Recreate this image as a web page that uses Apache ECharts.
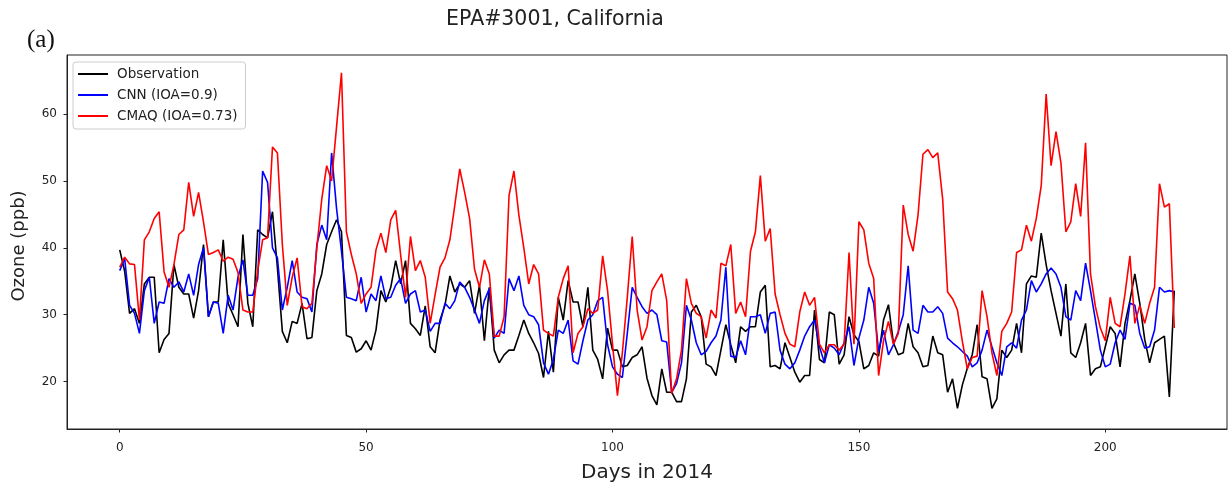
<!DOCTYPE html>
<html>
<head>
<meta charset="utf-8">
<script src="https://cdn.jsdelivr.net/npm/echarts@6/dist/echarts.min.js"></script>
<style>
  html, body { margin: 0; padding: 0; background: #fff; }
  #chart { width: 1231px; height: 488px; }
</style>
</head>
<body>
<div id="chart"></div>
<script>
// Daily ozone at EPA site #3001, California, days 0..214 of 2014 (ppb)
const xTicks = [0, 50, 100, 150, 200];
const yTicks = [20, 30, 40, 50, 60];
const seriesNames = ['Observation', 'CNN (IOA=0.9)', 'CMAQ (IOA=0.73)'];

const observation = [
  39.7, 36.5, 30.2, 30.9, 28.7, 34.6, 35.6, 35.6, 24.3, 26.3,
  27.2, 37.5, 34.1, 33.1, 33.1, 29.5, 33.6, 40.5, 29.7, 31.9,
  31.9, 41.2, 31.7, 30.0, 28.2, 42.0, 31.7, 28.2, 42.7, 42.0,
  41.5, 45.4, 37.0, 27.5, 25.8, 29.0, 28.7, 31.7, 26.4, 26.6,
  33.6, 36.1, 40.5, 42.4, 44.2, 42.4, 26.9, 26.6, 24.4, 24.9,
  26.1, 24.7, 27.7, 33.6, 31.9, 34.1, 38.1, 34.6, 38.1, 28.7,
  27.9, 26.9, 31.3, 25.2, 24.3, 29.2, 31.4, 35.8, 33.4, 34.6,
  34.1, 35.1, 30.2, 34.4, 26.1, 34.1, 24.7, 22.8, 24.0, 24.7,
  24.7, 26.9, 29.2, 27.2, 25.8, 24.2, 20.6, 27.5, 21.4, 32.6,
  29.2, 35.1, 31.9, 31.9, 28.2, 34.1, 24.7, 23.3, 20.4, 28.0,
  24.7, 24.7, 22.2, 22.4, 23.6, 24.0, 25.2, 20.5, 17.9, 16.5,
  21.9, 18.4, 18.4, 17.0, 17.0, 20.4, 30.4, 31.4, 29.7, 22.6,
  22.2, 20.9, 24.7, 28.5, 25.5, 22.8, 28.2, 27.5, 28.2, 28.2,
  33.4, 34.4, 22.2, 22.4, 21.9, 25.8, 23.6, 21.4, 19.9, 20.9,
  20.9, 30.7, 23.3, 22.8, 30.4, 30.0, 22.6, 24.0, 29.7, 27.0,
  26.0, 21.9, 22.4, 24.3, 23.8, 29.2, 31.5, 25.8, 24.0, 24.3,
  28.7, 25.2, 24.3, 22.2, 22.4, 26.8, 24.3, 24.0, 18.4, 20.4,
  16.0, 19.5, 22.0, 24.0, 28.5, 20.7, 20.4, 16.0, 17.4, 24.7,
  23.6, 24.7, 28.7, 24.3, 34.6, 35.8, 35.6, 42.2, 37.5, 33.6,
  30.2, 26.8, 34.6, 24.3, 23.6, 25.8, 28.7, 20.9, 21.9, 22.2,
  25.2, 28.2, 27.2, 22.2, 28.7, 32.1, 36.1, 31.7, 26.3, 22.8,
  25.8, 26.3, 26.8, 17.7, 33.6
];

const cnn = [
  36.6, 38.4, 31.4, 30.2, 27.2, 33.6, 35.6, 28.7, 31.9, 31.7,
  35.4, 34.1, 34.9, 33.4, 36.1, 32.9, 37.5, 40.0, 29.7, 31.9,
  31.7, 27.2, 32.9, 30.7, 35.6, 38.2, 32.9, 32.9, 35.4, 51.5,
  49.8, 40.0, 38.5, 30.7, 34.1, 38.1, 33.4, 32.6, 32.4, 30.4,
  40.5, 43.4, 41.2, 54.2, 45.9, 39.5, 32.6, 32.4, 32.1, 35.6,
  30.4, 33.1, 32.1, 35.8, 32.4, 32.6, 34.4, 35.4, 31.7, 33.1,
  33.6, 30.4, 30.7, 27.5, 28.7, 28.7, 31.7, 30.9, 32.1, 34.9,
  34.1, 32.6, 30.7, 28.7, 32.1, 33.9, 26.5, 27.7, 27.2, 35.4,
  33.6, 35.8, 31.4, 30.0, 29.7, 28.5, 22.8, 21.1, 23.3, 27.7,
  27.2, 29.2, 23.1, 22.6, 26.1, 29.2, 30.0, 32.1, 32.6, 25.5,
  22.2, 21.1, 20.6, 27.2, 34.1, 32.6, 31.2, 30.2, 30.7, 30.0,
  26.1, 25.9, 18.4, 19.7, 22.8, 31.4, 29.2, 25.8, 24.0, 24.5,
  25.8, 26.8, 29.2, 37.1, 23.8, 23.6, 26.1, 24.0, 29.7, 29.7,
  30.0, 27.2, 30.2, 30.4, 24.7, 22.6, 21.9, 22.8, 24.7, 26.8,
  28.2, 29.2, 25.2, 22.8, 25.5, 25.0, 24.0, 25.8, 28.2, 22.4,
  26.5, 29.2, 34.1, 31.7, 24.5, 27.7, 24.0, 25.5, 27.5, 30.0,
  37.3, 27.7, 27.2, 31.4, 30.4, 30.4, 31.2, 30.2, 26.5, 25.8,
  25.2, 24.5, 23.8, 22.2, 22.8, 24.7, 27.7, 25.2, 22.8, 20.9,
  25.2, 25.8, 25.0, 29.2, 30.7, 35.1, 33.4, 34.6, 36.1, 37.0,
  36.1, 34.1, 29.7, 29.2, 33.6, 32.1, 37.7, 33.6, 29.2, 24.7,
  22.2, 22.6, 25.8, 27.7, 26.3, 31.7, 31.4, 27.2, 25.0, 25.2,
  27.7, 34.1, 33.4, 33.6, 33.4
];

const cmaq = [
  37.1, 38.6, 37.6, 37.5, 29.2, 41.2, 42.4, 44.4, 45.4, 36.4,
  34.1, 37.5, 42.0, 42.7, 49.8, 44.7, 48.3, 43.9, 39.0, 39.3,
  39.7, 38.0, 38.6, 38.3, 36.3, 30.7, 30.4, 30.4, 36.6, 41.2,
  41.5, 55.1, 54.2, 40.5, 31.4, 35.6, 38.5, 31.2, 30.9, 31.7,
  40.0, 47.3, 52.3, 50.0, 58.1, 66.2, 42.4, 39.0, 36.1, 31.7,
  33.1, 34.1, 39.7, 42.2, 39.3, 44.2, 45.6, 39.0, 32.6, 41.7,
  36.6, 38.1, 35.6, 28.7, 33.0, 37.1, 38.5, 41.2, 46.4, 51.8,
  48.3, 44.4, 36.8, 34.1, 38.2, 36.1, 26.8, 26.8, 29.7, 47.8,
  51.5, 44.9, 40.0, 34.6, 37.5, 36.1, 27.7, 27.2, 26.8, 32.6,
  35.4, 37.3, 24.3, 27.2, 28.2, 30.9, 30.2, 30.7, 38.8, 33.6,
  25.6, 17.9, 24.3, 32.6, 41.7, 30.7, 26.2, 28.2, 33.6, 34.9,
  36.1, 32.1, 18.2, 20.4, 24.7, 35.4, 31.7, 30.2, 29.7, 26.5,
  30.7, 29.5, 37.7, 37.3, 40.5, 30.2, 31.9, 29.7, 39.5, 42.4,
  50.8, 41.0, 42.9, 33.1, 30.0, 27.2, 25.6, 25.2, 30.4, 33.4,
  31.4, 32.6, 25.6, 24.3, 25.5, 25.5, 24.7, 25.6, 39.3, 25.6,
  43.9, 42.7, 37.7, 35.4, 20.9, 26.1, 29.0, 25.6, 27.2, 46.4,
  42.0, 39.5, 44.9, 54.0, 54.7, 53.5, 54.2, 47.3, 33.4, 32.4,
  30.7, 26.0, 21.9, 23.6, 23.8, 33.6, 29.7, 24.3, 20.9, 27.5,
  28.7, 30.4, 39.3, 39.7, 43.4, 41.0, 44.4, 49.3, 63.0, 52.3,
  57.4, 52.7, 42.4, 43.9, 49.6, 44.7, 55.7, 36.1, 31.2, 28.0,
  26.1, 32.6, 28.7, 28.2, 33.1, 38.8, 28.7, 31.4, 28.7, 31.7,
  34.1, 49.6, 46.1, 46.6, 28.0
];

const toPoints = arr => arr.map((v, i) => [i, v]);

const axisColor = '#222';
const tickFont = { fontFamily: 'DejaVu Sans', fontSize: 12, color: '#222' };

const chart = echarts.init(document.getElementById('chart'), null, { renderer: 'canvas' });

chart.setOption({
  animation: false,
  backgroundColor: '#fff',
  title: {
    text: 'EPA#3001, California',
    left: 550,
    top: 4,
    textAlign: 'center',
    textStyle: { fontFamily: 'DejaVu Sans', fontSize: 20.5, fontWeight: 'normal', color: '#222' }
  },
  graphic: [{
    type: 'text',
    left: 27,
    top: 28,
    style: { text: '(a)', font: '25px "Liberation Serif"', fill: '#111' }
  }],
  grid: {
    left: 67, right: 4, top: 55, bottom: 53,
    show: true, borderColor: axisColor, borderWidth: 1, backgroundColor: 'transparent'
  },
  legend: {
    orient: 'vertical',
    left: 73,
    top: 62,
    itemWidth: 30,
    itemHeight: 14,
    itemGap: 7,
    padding: [5, 8, 6, 4],
    borderColor: '#ccc',
    borderWidth: 1,
    borderRadius: 3,
    backgroundColor: 'rgba(255,255,255,0.8)',
    // line-only keys: the marker drawn on each key line is made invisible
    itemStyle: { opacity: 0 },
    textStyle: { fontFamily: 'DejaVu Sans', fontSize: 13.5, color: '#222', padding: [0, 0, 0, 4] },
    data: seriesNames
  },
  xAxis: {
    type: 'value',
    min: -10.7,
    max: 224.7,
    name: 'Days in 2014',
    nameLocation: 'middle',
    nameGap: 34,
    nameTextStyle: { fontFamily: 'DejaVu Sans', fontSize: 20, color: '#222' },
    splitLine: { show: false },
    axisLine: { show: true, onZero: false, lineStyle: { color: axisColor, width: 1 } },
    axisTick: { show: true, customValues: xTicks, length: 3.5, lineStyle: { color: axisColor } },
    axisLabel: { customValues: xTicks, margin: 13, ...tickFont }
  },
  yAxis: {
    type: 'value',
    min: 12.9,
    max: 68.85,
    name: 'Ozone (ppb)',
    nameLocation: 'middle',
    nameRotate: 90,
    nameGap: 39,
    nameTextStyle: { fontFamily: 'DejaVu Sans', fontSize: 18, color: '#222', padding: [0, 8, 0, 0] },
    splitLine: { show: false },
    axisLine: { show: true, onZero: false, lineStyle: { color: axisColor, width: 1 } },
    axisTick: { show: true, customValues: yTicks, length: 3.5, lineStyle: { color: axisColor } },
    axisLabel: { customValues: yTicks, margin: 10, ...tickFont }
  },
  series: [
    {
      name: seriesNames[0], type: 'line', data: toPoints(observation),
      symbol: 'none', lineStyle: { color: '#000', width: 1.6 }, itemStyle: { color: '#000' }
    },
    {
      name: seriesNames[1], type: 'line', data: toPoints(cnn),
      symbol: 'none', lineStyle: { color: '#0000ff', width: 1.6 }, itemStyle: { color: '#0000ff' }
    },
    {
      name: seriesNames[2], type: 'line', data: toPoints(cmaq),
      symbol: 'none', lineStyle: { color: '#ff0000', width: 1.6 }, itemStyle: { color: '#ff0000' }
    }
  ]
});
</script>
</body>
</html>
